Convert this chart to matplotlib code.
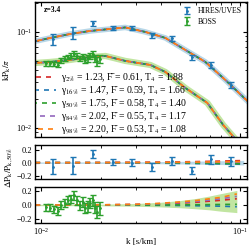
import numpy as np
import matplotlib
matplotlib.use("Agg")
import matplotlib.pyplot as plt

plt.rcParams['font.family'] = ['Liberation Serif', 'DejaVu Serif']
plt.rcParams['mathtext.fontset'] = 'stix'
plt.rcParams['font.size'] = 6
plt.rcParams['xtick.direction'] = 'in'
plt.rcParams['ytick.direction'] = 'in'
plt.rcParams['xtick.top'] = True
plt.rcParams['ytick.right'] = True
plt.rcParams['axes.linewidth'] = 1.0

# HIRES/UVES data
k_hires = [0.0115, 0.0145, 0.0182, 0.023, 0.0285, 0.036, 0.0455, 0.057, 0.0715, 0.09]
p_hires = [0.0846, 0.0976, 0.124, 0.110, 0.110, 0.093, 0.0866, 0.0549, 0.0453, 0.0281]
perr_hires = [0.011, 0.0137, 0.0074, 0.0055, 0.0055, 0.0056, 0.0052, 0.0033, 0.0032, 0.002]
res_hires = [-0.06, -0.05, 0.13, 0.01, 0.0, -0.06, 0.02, -0.12, 0.05, 0.02]
reserr_hires = [0.12, 0.13, 0.06, 0.05, 0.05, 0.06, 0.06, 0.06, 0.07, 0.07]

# BOSS data
k_boss = [0.0106, 0.0111, 0.0116, 0.0121, 0.0126, 0.0131, 0.0136, 0.0141, 0.0146, 0.0151,
          0.0156, 0.0161, 0.0166, 0.0171, 0.0176, 0.0181, 0.0186, 0.0191, 0.0196]
p_boss = [0.0472, 0.0472, 0.0467, 0.0457, 0.0507, 0.0526, 0.0551, 0.0566, 0.0596, 0.0564,
          0.0531, 0.0556, 0.0516, 0.0530, 0.0560, 0.0585, 0.0528, 0.0497, 0.0527]
perr_boss = [0.0025, 0.0025, 0.0025, 0.0027, 0.0028, 0.003, 0.003, 0.0032, 0.0035, 0.0035,
             0.0035, 0.0037, 0.0038, 0.004, 0.004, 0.0042, 0.0045, 0.005, 0.005]
res_boss = [-0.03, -0.04, -0.06, -0.09, 0.0, 0.03, 0.07, 0.09, 0.14, 0.07,
            0.0, 0.04, -0.04, -0.02, 0.03, 0.07, -0.04, -0.10, -0.05]
reserr_boss = [0.05, 0.05, 0.05, 0.055, 0.055, 0.06, 0.06, 0.06, 0.065, 0.065,
               0.065, 0.07, 0.07, 0.075, 0.075, 0.08, 0.08, 0.09, 0.09]

# best-fit model curves (top panel)
k_mod_h = [0.0093, 0.0111, 0.0140, 0.0176, 0.0222, 0.0264, 0.0333, 0.0420, 0.0529, 0.0667, 0.0841, 0.109]
p_mod_h = [0.0800, 0.0866, 0.0953, 0.1024, 0.1074, 0.1114, 0.1000, 0.0866, 0.0649, 0.0487, 0.0316, 0.0189]
k_mod_b = [0.0093, 0.0111, 0.0140, 0.0176, 0.0210, 0.0264, 0.0353, 0.0420, 0.0529, 0.0683, 0.0820, 0.0954]
p_mod_b = [0.0475, 0.0487, 0.0511, 0.0549, 0.0562, 0.0499, 0.0453, 0.0383, 0.0261, 0.0182, 0.01074, 0.0075]

# residual curves
k_res_h = [0.0093, 0.015, 0.02, 0.03, 0.04, 0.05, 0.06, 0.07, 0.08, 0.09, 0.104]
res_mod_h = {
    'r': [0.0, 0.0, 0.002, 0.005, 0.008, 0.012, 0.016, 0.02, 0.024, 0.028, 0.032],
    'b': [0.0, 0.0, -0.002, -0.005, -0.008, -0.011, -0.014, -0.017, -0.019, -0.021, -0.023],
    'g': [0.0, 0.0, 0.0, -0.002, -0.004, -0.006, -0.008, -0.01, -0.012, -0.014, -0.016],
    'p': [0.0, 0.0, 0.001, 0.002, 0.003, 0.004, 0.005, 0.006, 0.007, 0.008, 0.009],
    'o': [0.0, 0.0, 0.001, 0.003, 0.005, 0.007, 0.009, 0.011, 0.013, 0.015, 0.017],
}
band_h = [0.01, 0.011, 0.012, 0.014, 0.017, 0.02, 0.023, 0.026, 0.029, 0.032, 0.035]

k_res_b = [0.0093, 0.015, 0.02, 0.03, 0.04, 0.05, 0.06, 0.07, 0.08, 0.096]
res_mod_b = {
    'r': [0.0, 0.0, 0.002, 0.007, 0.015, 0.027, 0.04, 0.055, 0.068, 0.09],
    'b': [0.0, 0.0, -0.001, -0.003, -0.005, -0.008, -0.011, -0.014, -0.017, -0.025],
    'g': [0.0, 0.0, 0.0, 0.0, 0.001, 0.002, 0.004, 0.006, 0.008, 0.01],
    'p': [0.0, 0.0, 0.002, 0.008, 0.02, 0.035, 0.052, 0.072, 0.09, 0.125],
    'o': [0.0, 0.0, 0.002, 0.01, 0.025, 0.045, 0.065, 0.09, 0.11, 0.16],
}
band_b_lo = [-0.01, -0.01, -0.012, -0.018, -0.028, -0.04, -0.055, -0.07, -0.09, -0.11]
band_b_hi = [0.01, 0.01, 0.012, 0.022, 0.04, 0.065, 0.095, 0.13, 0.165, 0.21]

labels = ['γ$_{2\\%}$ = 1.23, F\u0304 = 0.61, T$_4$ = 1.88',
          'γ$_{16\\%}$ = 1.47, F\u0304 = 0.59, T$_4$ = 1.66',
          'γ$_{50\\%}$ = 1.75, F\u0304 = 0.58, T$_4$ = 1.40',
          'γ$_{84\\%}$ = 2.02, F\u0304 = 0.55, T$_4$ = 1.17',
          'γ$_{98\\%}$ = 2.20, F\u0304 = 0.53, T$_4$ = 1.08']
keys = ['r', 'b', 'g', 'p', 'o']
cols = {'r': '#d62728', 'b': '#1f77b4', 'g': '#2ca02c', 'p': '#9467bd', 'o': '#ff7f0e'}
blue = '#1f77b4'
green = '#2ca02c'

fig = plt.figure(figsize=(2.49, 2.5), dpi=100)
ax1 = fig.add_axes([0.141, 0.452, 0.851, 0.54])
ax2 = fig.add_axes([0.141, 0.284, 0.851, 0.136])
ax3 = fig.add_axes([0.141, 0.108, 0.851, 0.144])

# top panel
ax1.plot(k_mod_h, p_mod_h, color='#a6cee3', lw=4, alpha=0.8, zorder=1)
ax1.plot(k_mod_b, p_mod_b, color='#b2df8a', lw=4.5, alpha=0.8, zorder=1)
lines = []
for i, key in enumerate(keys):
    ls = (i * 1.2, (3, 3))
    l, = ax1.plot(k_mod_h, p_mod_h, color=cols[key], lw=1.2, ls=ls, zorder=2)
    ax1.plot(k_mod_b, p_mod_b, color=cols[key], lw=1.2, ls=ls, zorder=2)
    lines.append(l)
eh = ax1.errorbar(k_hires, p_hires, yerr=perr_hires, fmt='.', ms=2, color=blue,
                  elinewidth=1.2, capsize=2, capthick=1.0, zorder=3)
eb = ax1.errorbar(k_boss, p_boss, yerr=perr_boss, fmt='.', ms=2, color=green,
                  elinewidth=1.2, capsize=2, capthick=1.0, zorder=3)
ax1.set_xscale('log')
ax1.set_yscale('log')
ax1.set_xlim(0.0093, 0.108)
ax1.set_ylim(0.00805, 0.205)
ax1.set_ylabel(r'$\mathrm{kP_k}/\pi$', labelpad=2, fontsize=6.5)
ax1.tick_params(labelbottom=False)
ax1.text(0.04, 0.94, 'z=3.4', transform=ax1.transAxes, fontsize=5.5, fontweight='bold', va='center')
leg1 = ax1.legend([eh, eb], ['HIRES/UVES', 'BOSS'], loc='upper right', frameon=False,
                  fontsize=5.5, handlelength=1.2, borderaxespad=0.3, labelspacing=0.3)
ax1.add_artist(leg1)
ax1.legend(lines, labels, loc='lower left', frameon=False, fontsize=7,
           handlelength=2.0, handletextpad=0.6, labelspacing=0.0,
           borderpad=0.1, borderaxespad=0.0)

# middle panel
ax2.fill_between(k_res_h, [-b for b in band_h], band_h, color='#a6cee3', alpha=0.8, lw=0)
for key in keys:
    ax2.plot(k_res_h, res_mod_h[key], color=cols[key], lw=1.2, ls=(0, (3, 3)))
ax2.errorbar(k_hires, res_hires, yerr=reserr_hires, fmt='.', ms=2, color=blue,
             elinewidth=1.2, capsize=2, capthick=1.0)
ax2.set_xscale('log')
ax2.set_xlim(0.0093, 0.108)
ax2.set_ylim(-0.25, 0.27)
ax2.set_yticks([-0.2, 0.0, 0.2])
ax2.tick_params(labelbottom=False)
fig.text(0.035, 0.33, r'$\Delta\mathrm{P_k/P_{k,50\%}}$', rotation=90, fontsize=6.5,
         ha='center', va='center')

# bottom panel
ax3.fill_between(k_res_b, band_b_lo, band_b_hi, color='#b2df8a', alpha=0.8, lw=0)
for key in keys:
    ax3.plot(k_res_b, res_mod_b[key], color=cols[key], lw=1.2, ls=(0, (3, 3)))
ax3.errorbar(k_boss, res_boss, yerr=reserr_boss, fmt='.', ms=2, color=green,
             elinewidth=1.2, capsize=2, capthick=1.0)
ax3.set_xscale('log')
ax3.set_xlim(0.0093, 0.108)
ax3.set_ylim(-0.26, 0.26)
ax3.set_yticks([-0.2, 0.0, 0.2])
ax3.set_xlabel('k [s/km]', labelpad=1, fontsize=6.5)

for ax in (ax1, ax2, ax3):
    ax.tick_params(which='both', labelsize=6, pad=2)
    ax.tick_params(which='major', length=3)
    ax.tick_params(which='minor', length=1.8)

fig.savefig('out.png', dpi=100)
